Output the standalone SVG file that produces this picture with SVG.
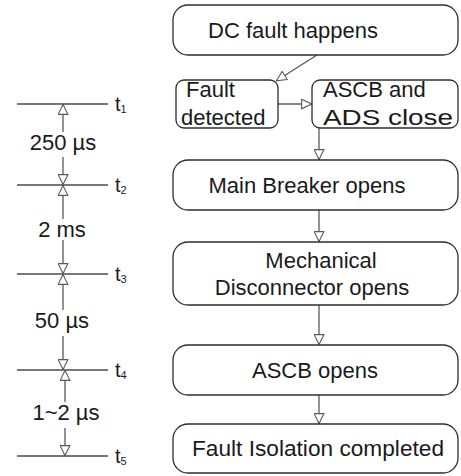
<svg xmlns="http://www.w3.org/2000/svg" width="461" height="476" viewBox="0 0 461 476">
<defs>
<style>
.box{fill:#fff;stroke:#2e2e2e;stroke-width:1.3}
.ln{stroke:#5a5a5a;stroke-width:1.3;fill:none}
.tl{stroke:#4a4a4a;stroke-width:1.3;fill:none}
text{font-family:"Liberation Sans",Arial,sans-serif;font-size:22px;fill:#1a1a1a}
.mid{text-anchor:middle}
.sub{font-size:11px}
.t{font-size:20px}
</style>
<marker id="ah" viewBox="0 0 10 10" refX="10" refY="5" markerWidth="11" markerHeight="11" markerUnits="userSpaceOnUse" orient="auto-start-reverse">
<path d="M0.6,0.6 L9.6,5 L0.6,9.4 Z" fill="#fff" stroke="#5a5a5a" stroke-width="1"/>
</marker>
</defs>
<rect width="461" height="476" fill="#fff"/>

<g id="timeline">
<line class="tl" x1="17" y1="104" x2="108" y2="104"/>
<line class="tl" x1="17" y1="185" x2="108" y2="185"/>
<line class="tl" x1="17" y1="274" x2="108" y2="274"/>
<line class="tl" x1="17" y1="370" x2="108" y2="370"/>
<line class="tl" x1="17" y1="456" x2="108" y2="456"/>
<text class="t" x="115" y="111">t<tspan class="sub" dy="2">1</tspan></text>
<text class="t" x="115" y="192">t<tspan class="sub" dy="2">2</tspan></text>
<text class="t" x="115" y="281">t<tspan class="sub" dy="2">3</tspan></text>
<text class="t" x="115" y="377">t<tspan class="sub" dy="2">4</tspan></text>
<text class="t" x="115" y="463">t<tspan class="sub" dy="2">5</tspan></text>
</g>

<g id="intervals">
<line class="ln" x1="63" y1="132" x2="63" y2="104" marker-end="url(#ah)"/>
<line class="ln" x1="63" y1="157" x2="63" y2="185" marker-end="url(#ah)"/>
<text class="mid" x="63" y="150">250 µs</text>
<line class="ln" x1="63" y1="219" x2="63" y2="185" marker-end="url(#ah)"/>
<line class="ln" x1="63" y1="240" x2="63" y2="274" marker-end="url(#ah)"/>
<text class="mid" x="62" y="237">2 ms</text>
<line class="ln" x1="63" y1="310" x2="63" y2="274" marker-end="url(#ah)"/>
<line class="ln" x1="63" y1="336" x2="63" y2="370" marker-end="url(#ah)"/>
<text class="mid" x="62" y="328">50 µs</text>
<line class="ln" x1="65" y1="402" x2="65" y2="370" marker-end="url(#ah)"/>
<line class="ln" x1="65" y1="428" x2="65" y2="456" marker-end="url(#ah)"/>
<text class="mid" x="66" y="420">1~2 µs</text>
</g>

<g id="connectors">
<line class="ln" x1="317" y1="55" x2="276" y2="81" marker-end="url(#ah)"/>
<line class="ln" x1="278" y1="104" x2="312" y2="104" marker-end="url(#ah)"/>
<line class="ln" x1="319" y1="128" x2="319" y2="160" marker-end="url(#ah)"/>
<line class="ln" x1="319" y1="210" x2="319" y2="242" marker-end="url(#ah)"/>
<line class="ln" x1="319" y1="305" x2="319" y2="345" marker-end="url(#ah)"/>
<line class="ln" x1="319" y1="395" x2="319" y2="424" marker-end="url(#ah)"/>
</g>

<g id="n-dc">
<rect class="box" x="173" y="5" width="285" height="50" rx="15"/>
<text class="mid" x="293" y="38">DC fault happens</text>
</g>
<g id="n-detect">
<rect class="box" x="176" y="80" width="102" height="48" rx="8"/>
<text x="186" y="97">Fault</text>
<text x="181" y="125">detected</text>
</g>
<g id="n-close">
<rect class="box" x="312" y="80" width="146" height="48" rx="8"/>
<text x="323" y="97">ASCB and</text>
<text x="323" y="125" textLength="130" lengthAdjust="spacingAndGlyphs">ADS close</text>
</g>
<g id="n-main">
<rect class="box" x="173" y="160" width="285" height="50" rx="15"/>
<text class="mid" x="307" y="193">Main Breaker opens</text>
</g>
<g id="n-mech">
<rect class="box" x="173" y="242" width="285" height="63" rx="15"/>
<text class="mid" x="321" y="268">Mechanical</text>
<text class="mid" x="312" y="295">Disconnector opens</text>
</g>
<g id="n-ascb">
<rect class="box" x="173" y="345" width="285" height="50" rx="15"/>
<text class="mid" x="315" y="378">ASCB opens</text>
</g>
<g id="n-iso">
<rect class="box" x="173" y="424" width="285" height="49" rx="15"/>
<text class="mid" x="318" y="456" textLength="252" lengthAdjust="spacingAndGlyphs">Fault Isolation completed</text>
</g>
</svg>
